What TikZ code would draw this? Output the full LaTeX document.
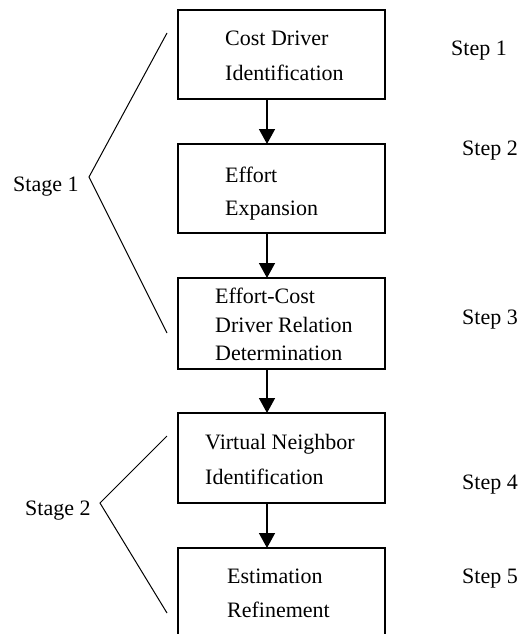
\documentclass[tikz,border=0pt]{standalone}
\usepackage{fontspec}
\setmainfont{Liberation Serif}
\usetikzlibrary{arrows.meta}
\begin{document}
\begin{tikzpicture}[x=1pt,y=-1pt,
  box/.style={draw=black,line width=1.5pt,minimum width=207pt,minimum height=#1,inner sep=0pt,outer sep=0pt,anchor=north west},
  txt/.style={anchor=base west,inner sep=0pt,font=\fontsize{22}{22}\selectfont},
  arr/.style={line width=1.5pt,-{Triangle[width=16pt,length=15pt]}},
  brk/.style={line width=1pt,line join=miter}]
\useasboundingbox (0,0) rectangle (519,634);
% boxes
\node[box=89pt] (b1) at (178,10) {};
\node[box=89pt] (b2) at (178,144) {};
\node[box=91pt] (b3) at (178,278) {};
\node[box=90pt] (b4) at (178,413) {};
\node[box=92pt] (b5) at (178,548) {};
% box texts
\node[txt] (t1a) at (225,46) {Cost Driver};
\node[txt] (t1b) at (225,81) {Identification};
\node[txt] (t2a) at (225,182) {Effort};
\node[txt] (t2b) at (225,215) {Expansion};
\node[txt] (t3a) at (215,303) {Effort-Cost};
\node[txt] (t3b) at (215,332) {Driver Relation};
\node[txt] (t3c) at (215,360) {Determination};
\node[txt] (t4a) at (205,449) {Virtual Neighbor};
\node[txt] (t4b) at (205,484) {Identification};
\node[txt] (t5a) at (227,583) {Estimation};
\node[txt] (t5b) at (227,617) {Refinement};
% step labels
\node[txt] (s1) at (451,56) {Step 1};
\node[txt] (s2) at (462,155) {Step 2};
\node[txt] (s3) at (462,324) {Step 3};
\node[txt] (s4) at (462,489) {Step 4};
\node[txt] (s5) at (462,583) {Step 5};
% stage labels
\node[txt] (g1) at (13,191) {Stage 1};
\node[txt] (g2) at (25,515) {Stage 2};
% arrows
\coordinate (ax) at (267,0);
\draw[arr] (b1.south -| ax) -- (b2.north -| ax);
\draw[arr] (b2.south -| ax) -- (b3.north -| ax);
\draw[arr] (b3.south -| ax) -- (b4.north -| ax);
\draw[arr] (b4.south -| ax) -- (b5.north -| ax);
% brackets
\coordinate (p1t) at (167,33);
\coordinate (p1v) at (89,177);
\coordinate (p1b) at (167,333);
\coordinate (p2t) at (167,436);
\coordinate (p2v) at (100,503);
\coordinate (p2b) at (167,613);
\draw[brk] (p1t) -- (p1v) -- (p1b);
\draw[brk] (p2t) -- (p2v) -- (p2b);
\end{tikzpicture}
\end{document}
